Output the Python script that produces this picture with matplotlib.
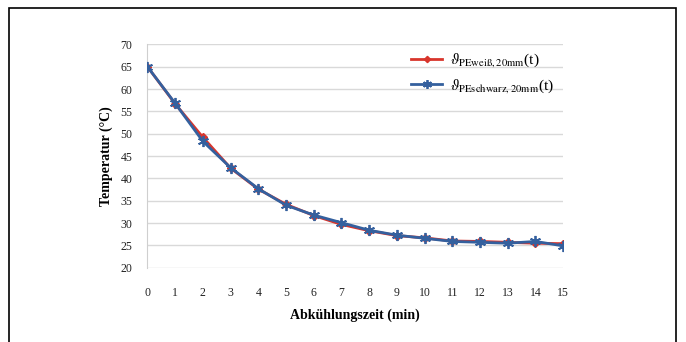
import matplotlib
matplotlib.use("Agg")
import matplotlib.pyplot as plt
from matplotlib.patches import Rectangle

# Daten
zeit = list(range(16))
pe_weiss = [65.0, 56.7, 49.2, 42.3, 37.6, 34.2, 31.7, 29.7, 28.3, 27.2, 26.7, 26.0, 25.9, 25.7, 25.5, 25.4]
pe_schwarz = [65.0, 56.8, 48.3, 42.4, 37.7, 34.0, 31.8, 30.1, 28.4, 27.3, 26.6, 25.9, 25.7, 25.5, 25.9, 24.9]
y_ticks = [20, 25, 30, 35, 40, 45, 50, 55, 60, 65, 70]
label_weiss = r'$\vartheta_{\mathrm{PEweiß,20mm}}$(t)'
label_schwarz = r'$\vartheta_{\mathrm{PEschwarz,20mm}}$(t)'

plt.rcParams['font.family'] = ['Liberation Serif', 'DejaVu Serif']
plt.rcParams['mathtext.fontset'] = 'stix'

fig = plt.figure(figsize=(6.86, 3.42), dpi=100)
ax = fig.add_axes([0.215, 0.217, 0.606, 0.653])

# äußerer Rahmen
fig.patches.append(Rectangle((0.013, -0.1), 0.972, 1.078, transform=fig.transFigure,
                             fill=False, edgecolor='black', linewidth=1.2))

ax.plot(zeit, pe_weiss, color='#d8352c', linewidth=2, marker='D', markersize=4,
        label=label_weiss, zorder=3)
ax.plot(zeit, pe_schwarz, color='#34609e', linewidth=2, marker=(6, 2, 0), markersize=8,
        markeredgewidth=1.3, label=label_schwarz, zorder=4)

ax.set_xlim(0, 15)
ax.set_ylim(20, 70)
ax.set_xticks(zeit)
ax.set_yticks(y_ticks)
ax.tick_params(length=0, labelsize=8.5, colors='#222222')
ax.tick_params(axis='x', pad=14)
ax.tick_params(axis='y', pad=11)
ax.yaxis.grid(True, color='#d9d9d9', linewidth=1)
ax.set_axisbelow(True)
for s in ['top', 'right', 'bottom']:
    ax.spines[s].set_visible(False)
ax.spines['left'].set_color('#cfcfcf')

ax.set_xlabel('Abkühlungszeit (min)', fontsize=10, fontweight='bold', labelpad=7)
ax.set_ylabel('Temperatur (°C)', fontsize=10, fontweight='bold', labelpad=5)

leg = ax.legend(loc='upper right', bbox_to_anchor=(1.01, 1.03), frameon=False,
                fontsize=11, handlelength=2, labelspacing=0.5, handletextpad=0.5,
                markerscale=0.8)

fig.savefig('out.png', dpi=100)
